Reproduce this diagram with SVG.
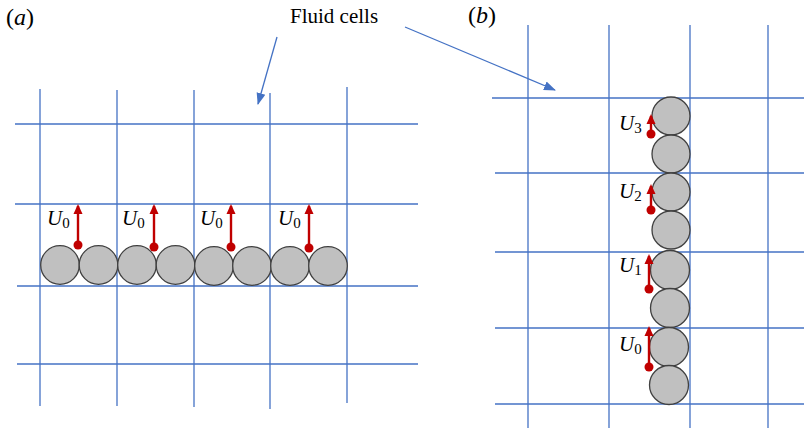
<svg xmlns="http://www.w3.org/2000/svg" width="804" height="428" viewBox="0 0 804 428">
<defs>
<style>
.grid{stroke:#4472C4;stroke-width:1.3;fill:none}
.p{fill:#C0C0C0;stroke:#404040;stroke-width:1.3}
.v{stroke:#C00000;stroke-width:2.4;fill:none}
.dot{fill:#C00000}
.lbl{font-family:"Liberation Serif",serif;font-style:italic;font-size:21px;fill:#000}
.sub{font-style:normal;font-size:15px}
.t{font-family:"Liberation Serif",serif;font-size:21px;fill:#000}
.big{font-size:24px}
.ptr{stroke:#4472C4;stroke-width:1.3;fill:none}
</style>
<marker id="ah" markerWidth="10" markerHeight="10" refX="8" refY="4.5" orient="auto" markerUnits="userSpaceOnUse" viewBox="0 0 10 9">
<path d="M0,0 L10,4.5 L0,9 Z" fill="#C00000"/>
</marker>
<marker id="bh" markerWidth="12" markerHeight="10" refX="11" refY="4.5" orient="auto" markerUnits="userSpaceOnUse" viewBox="0 0 12 9">
<path d="M0,0 L12,4.5 L0,9 Z" fill="#4472C4"/>
</marker>
</defs>
<rect width="804" height="428" fill="#fff"/>

<g id="labels">
<text class="t big" x="6" y="25">(<tspan font-style="italic">a</tspan>)</text>
<text class="t big" x="468" y="23">(<tspan font-style="italic">b</tspan>)</text>
<text class="t" x="290" y="23">Fluid cells</text>
</g>

<g id="grid-a">
<line class="grid" x1="40" y1="89" x2="40" y2="406"/>
<line class="grid" x1="117" y1="90" x2="117" y2="406"/>
<line class="grid" x1="194" y1="90" x2="194" y2="407"/>
<line class="grid" x1="270" y1="93" x2="270" y2="409"/>
<line class="grid" x1="347" y1="87" x2="347" y2="403"/>
<line class="grid" x1="15" y1="124" x2="418" y2="124"/>
<line class="grid" x1="15" y1="204" x2="418" y2="204"/>
<line class="grid" x1="17" y1="286" x2="418" y2="286"/>
<line class="grid" x1="17" y1="364" x2="418" y2="364"/>
</g>

<g id="grid-b">
<line class="grid" x1="528" y1="25" x2="528" y2="428"/>
<line class="grid" x1="609" y1="25" x2="609" y2="428"/>
<line class="grid" x1="690" y1="25" x2="690" y2="428"/>
<line class="grid" x1="768" y1="25" x2="768" y2="428"/>
<line class="grid" x1="492" y1="98" x2="804" y2="98"/>
<line class="grid" x1="495" y1="173" x2="804" y2="173"/>
<line class="grid" x1="495" y1="252" x2="804" y2="252"/>
<line class="grid" x1="495" y1="328" x2="804" y2="328"/>
<line class="grid" x1="495" y1="404" x2="804" y2="404"/>
</g>

<g id="particles-a">
<circle class="p" cx="60" cy="265" r="19.3"/>
<circle class="p" cx="98.5" cy="265" r="19.3"/>
<circle class="p" cx="137" cy="265" r="19.3"/>
<circle class="p" cx="175.5" cy="265" r="19.3"/>
<circle class="p" cx="214" cy="266" r="19.3"/>
<circle class="p" cx="252" cy="266" r="19.3"/>
<circle class="p" cx="290" cy="266" r="19.3"/>
<circle class="p" cx="328" cy="266" r="19.3"/>
</g>

<g id="particles-b">
<circle class="p" cx="671" cy="116" r="19"/>
<circle class="p" cx="671" cy="154" r="19"/>
<circle class="p" cx="671" cy="192" r="19"/>
<circle class="p" cx="671" cy="230" r="19"/>
<circle class="p" cx="670" cy="270" r="19.5"/>
<circle class="p" cx="670" cy="308" r="19.5"/>
<circle class="p" cx="669" cy="347" r="19.5"/>
<circle class="p" cx="669" cy="385" r="19.5"/>
</g>

<g id="velocities-a">
<line class="v" x1="78" y1="245" x2="78" y2="206" marker-end="url(#ah)"/>
<circle class="dot" cx="78" cy="245" r="4.5"/>
<line class="v" x1="154" y1="247" x2="154" y2="206" marker-end="url(#ah)"/>
<circle class="dot" cx="154" cy="247" r="4.5"/>
<line class="v" x1="231" y1="247" x2="231" y2="206" marker-end="url(#ah)"/>
<circle class="dot" cx="231" cy="247" r="4.5"/>
<line class="v" x1="309" y1="248" x2="309" y2="206" marker-end="url(#ah)"/>
<circle class="dot" cx="309" cy="248" r="4.5"/>
<text class="lbl" x="47" y="225">U<tspan class="sub" dy="3">0</tspan></text>
<text class="lbl" x="122" y="225">U<tspan class="sub" dy="3">0</tspan></text>
<text class="lbl" x="200" y="225">U<tspan class="sub" dy="3">0</tspan></text>
<text class="lbl" x="278" y="225">U<tspan class="sub" dy="3">0</tspan></text>
</g>

<g id="velocities-b">
<line class="v" x1="651" y1="134" x2="651" y2="116" marker-end="url(#ah)"/>
<circle class="dot" cx="651" cy="134" r="4.5"/>
<line class="v" x1="651" y1="210" x2="651" y2="186" marker-end="url(#ah)"/>
<circle class="dot" cx="651" cy="210" r="4.5"/>
<line class="v" x1="649" y1="289" x2="649" y2="256" marker-end="url(#ah)"/>
<circle class="dot" cx="649" cy="289" r="4.5"/>
<line class="v" x1="649" y1="367" x2="649" y2="328" marker-end="url(#ah)"/>
<circle class="dot" cx="649" cy="367" r="4.5"/>
<text class="lbl" x="619" y="130">U<tspan class="sub" dy="3">3</tspan></text>
<text class="lbl" x="619" y="198">U<tspan class="sub" dy="3">2</tspan></text>
<text class="lbl" x="619" y="272">U<tspan class="sub" dy="3">1</tspan></text>
<text class="lbl" x="619" y="351">U<tspan class="sub" dy="3">0</tspan></text>
</g>

<g id="connectors">
<line class="ptr" x1="277" y1="37" x2="258" y2="104" marker-end="url(#bh)"/>
<line class="ptr" x1="405" y1="27" x2="555" y2="90" marker-end="url(#bh)"/>
</g>
</svg>
